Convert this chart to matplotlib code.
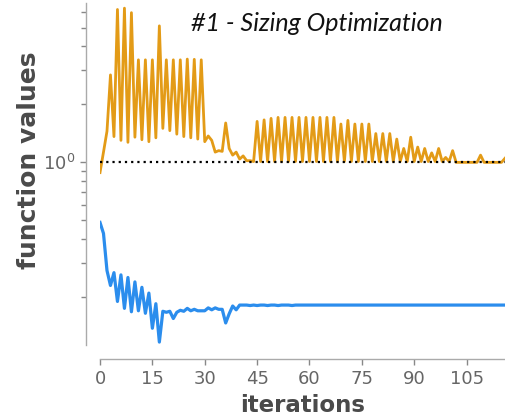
import matplotlib
matplotlib.use("Agg")
import matplotlib.pyplot as plt
from matplotlib.ticker import LogLocator, NullFormatter
import numpy as np

# objective (orange) and constraint (blue) values per iteration
orange_vals = [0.885, 1.13, 1.45, 2.84, 1.36, 6.2, 1.30, 6.3, 1.27, 5.97,
               1.35, 3.40, 1.31, 3.40, 1.28, 3.40, 1.34, 5.1, 1.50, 3.40,
               1.46, 3.40, 1.40, 3.40, 1.36, 3.43, 1.34, 3.42, 1.32, 3.40,
               1.28, 1.37, 1.30, 1.13, 1.15, 1.14, 1.60, 1.18, 1.09, 1.13,
               1.04, 1.08, 1.02, 1.02, 1.01, 1.63, 1.01, 1.66, 1.01, 1.69,
               1.01, 1.71, 1.01, 1.71, 1.01, 1.71, 1.01, 1.71, 1.01, 1.71,
               1.01, 1.71, 1.01, 1.71, 1.01, 1.71, 1.01, 1.71, 1.01, 1.58,
               1.01, 1.65, 1.01, 1.58, 1.01, 1.58, 1.01, 1.58, 1.01, 1.41,
               1.01, 1.41, 1.01, 1.41, 1.01, 1.32, 1.01, 1.18, 1.01, 1.35,
               1.01, 1.20, 1.01, 1.18, 1.01, 1.12, 1.01, 1.18, 1.01, 1.06,
               1.01, 1.15, 1.00, 1.00, 1.00, 1.00, 1.00, 1.00, 1.00, 1.09,
               1.00, 1.00, 1.00, 1.00, 1.00, 1.00, 1.05]

blue_vals = [0.488, 0.428, 0.275, 0.230, 0.268, 0.190, 0.261, 0.175, 0.253, 0.168,
             0.240, 0.170, 0.225, 0.165, 0.210, 0.138, 0.185, 0.117, 0.169, 0.167,
             0.169, 0.155, 0.167, 0.171, 0.169, 0.175, 0.170, 0.173, 0.170, 0.170,
             0.170, 0.176, 0.172, 0.176, 0.173, 0.173, 0.147, 0.164, 0.180, 0.172,
             0.182, 0.182, 0.182, 0.181, 0.182, 0.181, 0.182, 0.182, 0.181, 0.182,
             0.182, 0.181, 0.182, 0.182, 0.182, 0.181, 0.182, 0.182, 0.182, 0.182,
             0.182, 0.182, 0.182, 0.182, 0.182, 0.182, 0.182, 0.182, 0.182, 0.182,
             0.182, 0.182, 0.182, 0.182, 0.182, 0.182, 0.182, 0.182, 0.182, 0.182,
             0.182, 0.182, 0.182, 0.182, 0.182, 0.182, 0.182, 0.182, 0.182, 0.182,
             0.182, 0.182, 0.182, 0.182, 0.182, 0.182, 0.182, 0.182, 0.182, 0.182,
             0.182, 0.182, 0.182, 0.182, 0.182, 0.182, 0.182, 0.182, 0.182, 0.182,
             0.182, 0.182, 0.182, 0.182, 0.182, 0.182, 0.182]

ref_value = 1.0
xticks = [0, 15, 30, 45, 60, 75, 90, 105]
title = "#1 - Sizing Optimization"

iters = np.arange(len(orange_vals))

fig = plt.figure(figsize=(5.05, 4.19), dpi=100)
ax = fig.add_axes([100/505, 74/419, 405/505, 342/419])

ax.plot(iters, orange_vals, color='#e39b17', lw=2.0)
ax.plot(iters, blue_vals, color='#2b8ded', lw=2.3)
ax.axhline(ref_value, color='black', ls=(0, (1, 1.8)), lw=1.6)

ax.set_yscale('log')
ax.set_ylim(0.113, 6.7)
ax.set_xlim(0, len(orange_vals) - 1)
ax.set_xticks(xticks)
ax.yaxis.set_minor_locator(LogLocator(base=10, subs=np.arange(2, 10), numticks=20))
ax.yaxis.set_minor_formatter(NullFormatter())

# seaborn-like despine with offset
for s in ['top', 'right']:
    ax.spines[s].set_visible(False)
for s in ['left', 'bottom']:
    ax.spines[s].set_position(('outward', 10))
    ax.spines[s].set_color('#aaaaaa')
    ax.spines[s].set_linewidth(1.0)

ax.tick_params(which='both', colors='#888888', labelcolor='#666666', labelsize=13, width=1.0)
ax.tick_params(which='major', length=4.5)
ax.tick_params(which='minor', length=3.5)
ax.tick_params(axis='y', which='both', left=True, colors='#888888', labelcolor='#666666')

ax.set_xlabel('iterations', fontsize=16.5, fontweight='bold', color='#4a4a4a')
ax.set_ylabel('function values', fontsize=18, fontweight='bold', color='#4a4a4a')
ax.yaxis.set_label_coords(-0.146, 0.541)

fig.text(0.627, 0.945, title, fontsize=18, style='italic', family='Lato',
         color='#111111', ha='center', va='center')

fig.savefig('out.png', dpi=100)
